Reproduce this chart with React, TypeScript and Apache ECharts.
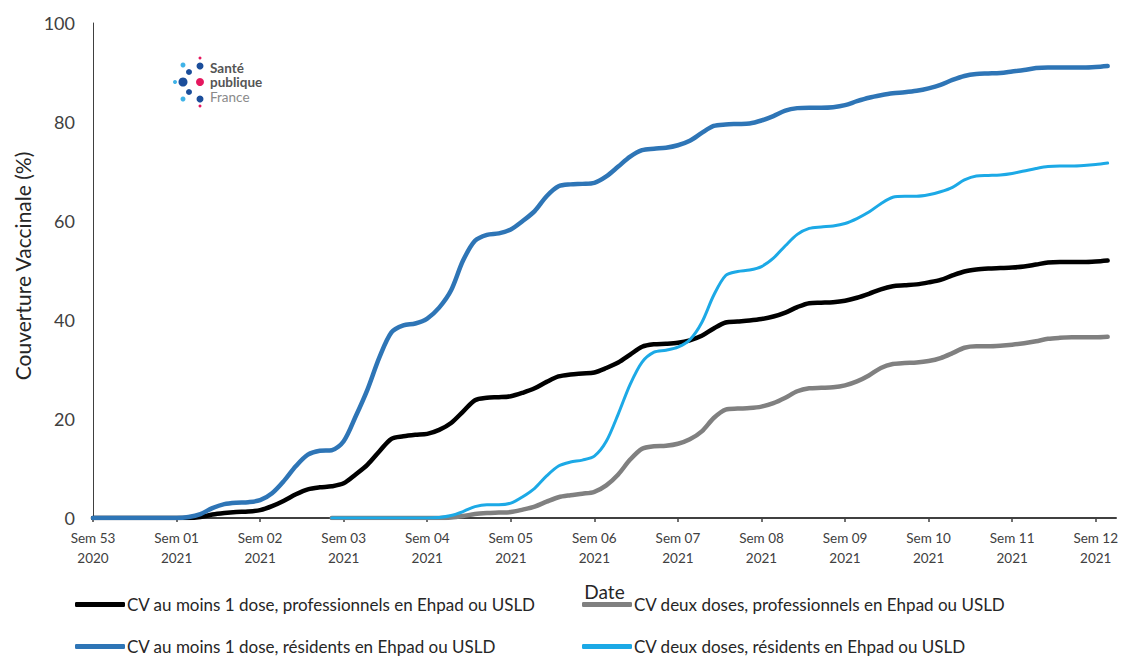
import React, { useEffect, useRef } from "react";
import * as echarts from "echarts";

// Week tick labels (every 7 days)
const weekLabels = ["Sem 53", "Sem 01", "Sem 02", "Sem 03", "Sem 04", "Sem 05", "Sem 06", "Sem 07", "Sem 08", "Sem 09", "Sem 10", "Sem 11", "Sem 12"];
const yearLabels = ["2020", "2021", "2021", "2021", "2021", "2021", "2021", "2021", "2021", "2021", "2021", "2021", "2021"];
const yTicks = [0, 20, 40, 60, 80, 100];

const seriesNames = [
  "CV au moins 1 dose, professionnels en Ehpad ou USLD",
  "CV deux doses, professionnels en Ehpad ou USLD",
  "CV au moins 1 dose, résidents en Ehpad ou USLD",
  "CV deux doses, résidents en Ehpad ou USLD",
];

// Daily values, day 0 = start of Sem 53 2020
const proDose1 = [
  0, 0, 0, 0, 0, 0, 0, 0, 0, 0.2, 0.7, 1.0, 1.2, 1.3, 1.6, 2.4, 3.5, 4.8, 5.8, 6.2,
  6.4, 7.0, 8.8, 10.8, 13.5, 16.0, 16.5, 16.8, 17.0, 17.8, 19.2, 21.5, 23.8, 24.3, 24.4, 24.6, 25.3, 26.2, 27.5, 28.6,
  29.0, 29.2, 29.4, 30.3, 31.4, 33.0, 34.6, 35.1, 35.2, 35.4, 35.9, 36.8, 38.3, 39.5, 39.7, 39.9, 40.2, 40.7, 41.5, 42.6,
  43.4, 43.5, 43.6, 43.9, 44.5, 45.3, 46.2, 46.8, 47.0, 47.2, 47.6, 48.1, 49.0, 49.8, 50.2, 50.4, 50.5, 50.6, 50.8, 51.2,
  51.6, 51.7, 51.7, 51.7, 51.8, 52.0,
];
const proDose2 = [
  null, null, null, null, null, null, null, null, null, null, null, null, null, null, null, null, null, null, null, null,
  0, 0, 0, 0, 0, 0, 0, 0, 0, 0, 0.1, 0.4, 0.8, 1.0, 1.1, 1.2, 1.7, 2.3, 3.3, 4.2,
  4.6, 4.9, 5.3, 6.6, 8.8, 11.8, 14.0, 14.5, 14.6, 15.0, 15.9, 17.5, 20.2, 21.9, 22.1, 22.2, 22.5, 23.2, 24.3, 25.6,
  26.2, 26.3, 26.4, 26.8, 27.6, 28.8, 30.3, 31.1, 31.3, 31.4, 31.7, 32.3, 33.3, 34.4, 34.7, 34.7, 34.8, 35.0, 35.3, 35.7,
  36.2, 36.4, 36.5, 36.5, 36.5, 36.6,
];
const resDose1 = [
  0, 0, 0, 0, 0, 0, 0, 0, 0.2, 0.8, 2.0, 2.8, 3.1, 3.2, 3.6, 5.0, 7.5, 10.5, 12.8, 13.6,
  13.7, 15.5, 20.5, 26.0, 32.5, 37.5, 38.9, 39.3, 40.3, 42.5, 46.0, 52.0, 56.0, 57.2, 57.5, 58.3, 60.0, 62.0, 65.0, 67.0,
  67.4, 67.5, 67.7, 69.0, 71.0, 73.0, 74.3, 74.6, 74.8, 75.3, 76.2, 77.8, 79.2, 79.5, 79.6, 79.7, 80.3, 81.2, 82.3, 82.8,
  82.9, 82.9, 83.0, 83.4, 84.2, 84.9, 85.4, 85.8, 86.0, 86.3, 86.8, 87.5, 88.5, 89.3, 89.7, 89.8, 89.9, 90.2, 90.5, 90.9,
  91.0, 91.0, 91.0, 91.0, 91.1, 91.3,
];
const resDose2 = [
  null, null, null, null, null, null, null, null, null, null, null, null, null, null, null, null, null, null, null, null,
  0, 0, 0, 0, 0, 0, 0, 0, 0, 0.1, 0.5, 1.3, 2.3, 2.7, 2.7, 3.0, 4.3, 6.0, 8.5, 10.5,
  11.3, 11.7, 12.5, 15.5, 21.0, 27.0, 31.5, 33.5, 33.9, 34.5, 36.0, 39.5, 45.0, 49.0, 49.8, 50.1, 50.8, 52.5, 55.0, 57.3,
  58.5, 58.8, 59.0, 59.5, 60.5, 61.8, 63.5, 64.8, 65.0, 65.0, 65.3, 65.9, 66.8, 68.3, 69.1, 69.2, 69.3, 69.6, 70.1, 70.6,
  71.0, 71.1, 71.1, 71.2, 71.4, 71.7,
];

const colors = ["#000000", "#808080", "#2E75B6", "#1CA9E6"];
const widths = [4.5, 4.5, 4.5, 3];
const FONT = "Lato, 'Open Sans', sans-serif";

const toPairs = (arr: (number | null)[]) => arr.map((v, i) => [i, v]);

export default function App() {
  const ref = useRef<HTMLDivElement>(null);
  useEffect(() => {
    if (!ref.current) return;
    const chart = echarts.init(ref.current, undefined, { renderer: "svg" });
    const allData = [proDose1, proDose2, resDose1, resDose2];
    const legendPos = [
      { left: 75, top: 596 },
      { left: 582, top: 596 },
      { left: 75, top: 638 },
      { left: 582, top: 638 },
    ];
    const logoDots = [
      { cx: 200, cy: 58, r: 1.5, c: "#E5175E" },
      { cx: 200, cy: 66, r: 3.5, c: "#1B4E9B" },
      { cx: 183, cy: 65, r: 2.5, c: "#3FB3E8" },
      { cx: 189, cy: 72, r: 3, c: "#1B4E9B" },
      { cx: 175, cy: 82, r: 2, c: "#3FB3E8" },
      { cx: 183, cy: 82, r: 4.5, c: "#1B4E9B" },
      { cx: 200, cy: 82, r: 4, c: "#E5175E" },
      { cx: 189, cy: 92, r: 3, c: "#1B4E9B" },
      { cx: 183, cy: 99, r: 2.5, c: "#3FB3E8" },
      { cx: 200, cy: 99, r: 3.5, c: "#1B4E9B" },
      { cx: 200, cy: 106, r: 1.5, c: "#E5175E" },
    ];
    chart.setOption({
      animation: false,
      backgroundColor: "#ffffff",
      textStyle: { fontFamily: FONT },
      grid: { left: 93, top: 23, right: 10, bottom: 141, containLabel: false },
      xAxis: {
        type: "value",
        min: 0,
        max: 85.7,
        interval: 7,
        name: "Date",
        nameLocation: "middle",
        nameGap: 64,
        nameTextStyle: { fontSize: 19, color: "#262626", fontFamily: FONT },
        axisLine: { show: true, lineStyle: { color: "#404040", width: 2 } },
        axisTick: { show: true, length: 4, lineStyle: { color: "#404040", width: 1.5 } },
        splitLine: { show: false },
        axisLabel: {
          margin: 10,
          fontSize: 13.5,
          lineHeight: 20,
          color: "#404040",
          fontFamily: FONT,
          showMaxLabel: false,
          formatter: (v: number) => {
            const i = Math.round(v / 7);
            if (Math.abs(v - i * 7) > 0.01 || i >= weekLabels.length) return "";
            return weekLabels[i] + "\n" + yearLabels[i];
          },
        },
      },
      yAxis: {
        type: "value",
        min: 0,
        max: 100,
        interval: 20,
        axisLine: { show: true, lineStyle: { color: "#404040", width: 1 } },
        axisTick: { show: false },
        splitLine: { show: false },
        axisLabel: {
          margin: 18,
          fontSize: 18,
          color: "#404040",
          fontFamily: FONT,
          formatter: (v: number) => (yTicks.includes(v) ? String(v) : ""),
        },
      },
      legend: seriesNames.map((n, i) => ({
        data: [n],
        left: legendPos[i].left,
        top: legendPos[i].top,
        icon: "roundRect",
        itemWidth: 50,
        itemHeight: 5,
        padding: 0,
        selectedMode: false,
        textStyle: { fontSize: 17, color: "#262626", fontFamily: FONT, padding: [0, 0, 0, -3] },
      })),
      series: allData.map((d, i) => ({
        name: seriesNames[i],
        type: "line",
        data: toPairs(d),
        smooth: 0.3,
        showSymbol: false,
        symbol: "none",
        connectNulls: false,
        lineStyle: { color: colors[i], width: widths[i], cap: "round", join: "round" },
        itemStyle: { color: colors[i] },
        z: 2 + i,
      })),
      graphic: [
        {
          type: "text",
          x: 22,
          y: 266,
          rotation: Math.PI / 2,
          style: {
            text: "Couverture Vaccinale (%)",
            fontSize: 21,
            fontFamily: FONT,
            fill: "#262626",
            align: "center",
            verticalAlign: "middle",
          },
        },
        ...logoDots.map((d) => ({
          type: "circle",
          shape: { cx: d.cx, cy: d.cy, r: d.r },
          style: { fill: d.c },
        })),
        {
          type: "text",
          x: 210,
          y: 68,
          style: { text: "Santé", fontSize: 13.5, fontWeight: "bold", fontFamily: FONT, fill: "#555555", verticalAlign: "middle" },
        },
        {
          type: "text",
          x: 210,
          y: 82,
          style: { text: "publique", fontSize: 13.5, fontWeight: "bold", fontFamily: FONT, fill: "#555555", verticalAlign: "middle" },
        },
        {
          type: "text",
          x: 210,
          y: 97,
          style: { text: "France", fontSize: 13.5, fontFamily: FONT, fill: "#8a8a8a", verticalAlign: "middle" },
        },
      ],
    });
    return () => chart.dispose();
  }, []);
  return (
    <div
      ref={ref}
      style={{ position: "absolute", left: 0, top: 0, width: 1126, height: 659, background: "#fff" }}
    />
  );
}
